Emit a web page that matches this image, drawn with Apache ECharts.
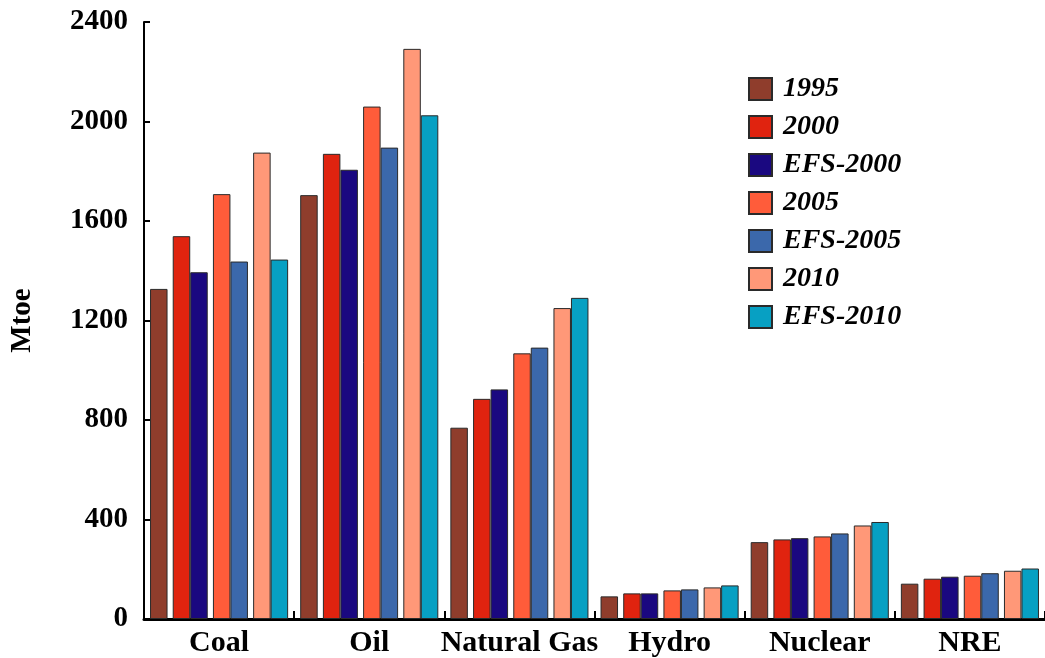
<!DOCTYPE html>
<html>
<head>
<meta charset="utf-8">
<script src="https://cdn.jsdelivr.net/npm/echarts@6/dist/echarts.min.js"></script>
<style>
html,body{margin:0;padding:0;background:#fff;}
#chart{width:1045px;height:658px;}
</style>
</head>
<body>
<div id="chart"></div>
<script>
const categories = ['Coal', 'Oil', 'Natural Gas', 'Hydro', 'Nuclear', 'NRE'];
const yTicks = [0, 400, 800, 1200, 1600, 2000, 2400];
const seriesNames = ['1995', '2000', 'EFS-2000', '2005', 'EFS-2005', '2010', 'EFS-2010'];
const v1995    = [1327, 1704, 769, 91, 309, 142];
const v2000    = [1539, 1870, 885, 103, 320, 162];
const vEFS2000 = [1394, 1806, 923, 103, 325, 170];
const v2005    = [1708, 2060, 1068, 115, 332, 174];
const vEFS2005 = [1437, 1895, 1091, 119, 344, 184];
const v2010    = [1875, 2292, 1250, 127, 376, 194];
const vEFS2010 = [1445, 2025, 1291, 135, 390, 203];
const colors = ['#8f3d2c', '#e0230f', '#1a0880', '#ff5c3a', '#3b68ab', '#ff9878', '#07a0c3'];

const values = [v1995, v2000, vEFS2000, v2005, vEFS2005, v2010, vEFS2010];
const FONT = "'Liberation Serif', 'Times New Roman', serif";
const BAR_W = 17.5, GAP_W = 5.2;

function bar(i) {
  return {
    name: seriesNames[i], type: 'bar', data: values[i], barWidth: BAR_W, barGap: '0%',
    itemStyle: { color: colors[i], borderColor: '#2a2a2a', borderWidth: 1 }
  };
}
function spacer(k) {
  return { name: '_gap' + k, type: 'bar', data: categories.map(() => null), barWidth: GAP_W, barGap: '0%', silent: true };
}
const series = [bar(0), spacer(1), bar(1), bar(2), spacer(2), bar(3), bar(4), spacer(3), bar(5), bar(6)];

const chart = echarts.init(document.getElementById('chart'), null, { renderer: 'canvas' });
chart.setOption({
  animation: false,
  backgroundColor: '#fff',
  grid: { left: 140, top: 22, width: 915, height: 599, containLabel: false },
  legend: {
    data: seriesNames, orient: 'vertical', left: 743, top: 70,
    itemWidth: 23, itemHeight: 22, itemGap: 10, icon: 'rect',
    textStyle: { fontFamily: FONT, fontSize: 28, fontWeight: 'bold', fontStyle: 'italic', color: '#000', padding: [0, 0, 0, 6] }
  },
  xAxis: {
    type: 'category', data: categories,
    axisLine: { show: true, lineStyle: { color: '#000', width: 3 } },
    axisTick: { show: true, inside: true, interval: 0, alignWithLabel: false, length: 8, lineStyle: { color: '#000', width: 2 } },
    axisLabel: { show: true, interval: 0, fontFamily: FONT, fontSize: 30, fontWeight: 'bold', color: '#000', margin: 9 },
    splitLine: { show: false }
  },
  yAxis: {
    type: 'value', min: yTicks[0], max: yTicks[yTicks.length - 1], interval: 400,
    name: 'Mtoe', nameLocation: 'middle', nameRotate: 90, nameGap: 107,
    nameTextStyle: { fontFamily: FONT, fontSize: 29, fontWeight: 'bold', color: '#000' },
    axisLine: { show: true, lineStyle: { color: '#000', width: 2 } },
    axisTick: { show: true, inside: true, length: 6, lineStyle: { color: '#000', width: 2 } },
    axisLabel: { fontFamily: FONT, fontSize: 29, fontWeight: 'bold', color: '#000', margin: 16, formatter: v => String(v) },
    splitLine: { show: false }
  },
  series: series
});
</script>
</body>
</html>
